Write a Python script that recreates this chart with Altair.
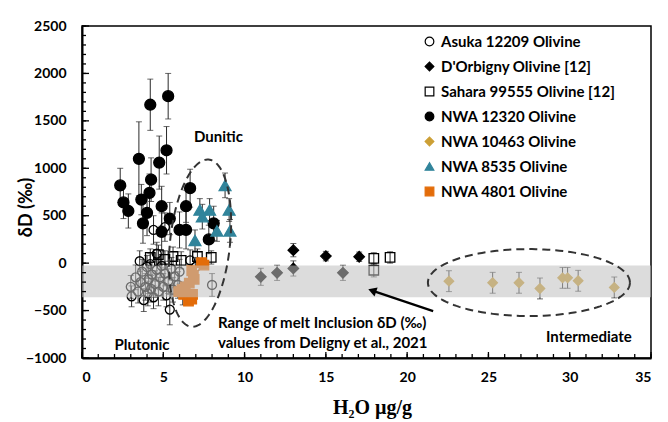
import altair as alt
import pandas as pd
import numpy as np

# ---------------- data ----------------
SERIES = ["Asuka 12209 Olivine", "D'Orbigny Olivine [12]", "Sahara 99555 Olivine [12]",
          "NWA 12320 Olivine", "NWA 10463 Olivine", "NWA 8535 Olivine", "NWA 4801 Olivine"]
SHAPES = ["circle", "diamond", "square", "circle", "diamond", "triangle-up", "square"]
FILLS = ["transparent", "#000000", "transparent", "#000000", "#CC9F35", "#31849B", "#E36C09"]
STROKES = ["#000000", "#000000", "#000000", "#000000", "#CC9F35", "#31849B", "#E36C09"]
SIZES = [80, 110, 90, 120, 90, 140, 90]

asuka_x = [3.0, 3.05, 3.3, 3.45, 3.6, 3.7, 3.8, 3.9, 4.0, 4.05, 4.1, 4.2, 4.25, 4.3, 4.4, 4.4, 4.5,
           4.6, 4.7, 4.8, 4.9, 5.0, 5.1, 5.1, 5.2, 5.3, 5.4, 5.5, 5.6, 5.7, 5.9, 6.0, 6.65, 7.0,
           8.0, 6.2, 4.6, 3.55]
asuka_y = [-250, -350, -150, -300, -200, -90, -390, -250, -40, -320, -170, -10, -270, -120, -360,
           350, -220, -70, -300, -150, -30, -250, 380, -110, -340, -190, -490, -60, -280, -140,
           -230, -90, 30, -40, -230, -320, 100, 20]
asuka_e = [120, 110, 130, 120, 140, 130, 120, 140, 120, 130, 150, 110, 140, 130, 120, 150, 140,
           120, 150, 130, 120, 140, 150, 130, 120, 130, 160, 120, 130, 120, 140, 130, 110, 100,
           120, 120, 120, 110]

dorb_x = [13.0, 15.0, 17.05, 11.0, 12.0, 13.0, 16.05]
dorb_y = [137, 74, 67, -144, -102, -56, -102]
dorb_e = [70, 50, 50, 90, 80, 80, 80]

sahara_x = [4.2, 4.7, 5.1, 5.6, 6.1, 7.1, 7.95, 17.95, 18.95, 17.95]
sahara_y = [60, 90, 40, 70, 30, 70, 60, 50, 60, -75]
sahara_e = [90, 100, 90, 100, 90, 80, 70, 60, 60, 70]

nwa12320_x = [2.35, 2.55, 2.85, 3.5, 3.65, 3.75, 4.0, 4.15, 4.2, 4.25, 4.75, 4.9, 5.2, 5.3,
              4.9, 5.4, 6.0, 6.4, 6.4, 6.65, 7.8, 8.1]
nwa12320_y = [820, 640, 550, 1100, 670, 420, 530, 740, 1670, 880, 1060, 600, 1190, 1760,
              330, 470, 350, 350, 600, 790, 250, 420]
nwa12320_e = [180, 170, 180, 390, 160, 210, 240, 200, 270, 230, 280, 210, 250, 240,
              200, 170, 190, 200, 170, 200, 150, 180]

nwa10463_x = [22.57, 25.26, 26.88, 28.17, 29.56, 29.87, 30.52, 32.74]
nwa10463_y = [-190, -207, -207, -267, -155, -155, -186, -256]
nwa10463_e = [110, 110, 110, 110, 110, 110, 110, 110]

nwa8535_x = [8.8, 7.25, 7.85, 7.4, 9.05, 8.3, 9.1, 6.95]
nwa8535_y = [820, 560, 560, 490, 560, 340, 340, 240]
nwa8535_e = [130, 120, 120, 130, 120, 110, 120, 110]

nwa4801_x = [7.35, 7.5, 6.75, 6.85, 6.9, 6.6, 6.35, 6.15, 5.95, 6.25, 6.8, 6.55, 6.75]
nwa4801_y = [5, -20, -80, -130, -170, -210, -250, -280, -300, -330, -330, -400, -380]
nwa4801_e = [30] * 13

band_lo, band_hi = -360, -25

annot_text = ["Dunitic", "Plutonic", "Range of melt Inclusion δD (‰)",
              "values from Deligny et al., 2021", "Intermediate"]
annot_x = [8.39, 3.69, 8.36, 8.36, 31.18]
annot_y = [1328, -864, -632, -843, -780]
annot_align = ["center", "center", "left", "left", "center"]

arrow_x = [21.6, 17.85]
arrow_y = [-506, -290]

ell_dunitic = dict(cx=7.26, cy=211, major=84, minor=30, tilt=6, vertical=True)
ell_inter = dict(cx=27.49, cy=-205, major=101, minor=33.5, tilt=0, vertical=False)

# ---------------- build tables ----------------
W, H = 569, 332
XPX = W / 35.0
YPX = H / 3500.0

parts = [
    (asuka_x, asuka_y, asuka_e), (dorb_x, dorb_y, dorb_e), (sahara_x, sahara_y, sahara_e),
    (nwa12320_x, nwa12320_y, nwa12320_e), (nwa10463_x, nwa10463_y, nwa10463_e),
    (nwa8535_x, nwa8535_y, nwa8535_e), (nwa4801_x, nwa4801_y, nwa4801_e),
]
rows = []
for s, sz, (xs, ys, es) in zip(SERIES, SIZES, parts):
    for x, y, e in zip(xs, ys, es):
        rows.append({"series": s, "x": x, "y": y, "lo": y - e, "hi": y + e, "sz": sz})
df = pd.DataFrame(rows)
caps = pd.concat([df[["series", "x"]].assign(c=df["lo"]), df[["series", "x"]].assign(c=df["hi"])])


def ellipse(p, n=160):
    t = np.linspace(0, 2 * np.pi, n)
    th = np.radians(p["tilt"])
    a, b = p["major"], p["minor"]
    if p["vertical"]:
        dx = b * np.cos(t) * np.cos(th) + a * np.sin(t) * np.sin(th)
        dy = -b * np.cos(t) * np.sin(th) + a * np.sin(t) * np.cos(th)
    else:
        dx = a * np.cos(t)
        dy = b * np.sin(t)
    return pd.DataFrame({"x": p["cx"] + dx / XPX, "y": p["cy"] + dy / YPX, "o": np.arange(n)})


ells = pd.concat([ellipse(ell_dunitic).assign(g="d"), ellipse(ell_inter).assign(g="i")])

annot = pd.DataFrame({"t": annot_text, "x": annot_x, "y": annot_y, "al": annot_align})
arrow = pd.DataFrame({"x": arrow_x, "y": arrow_y, "o": [0, 1]})
band = pd.DataFrame({"x": [0], "x2": [35], "y": [band_lo], "y2": [band_hi]})
yminor = pd.DataFrame({"v": list(range(-1000, 2501, 100))})
ymajor = pd.DataFrame({"v": list(range(-1000, 2501, 500))})
xminor = pd.DataFrame({"v": list(range(0, 36, 1))})
xmajor = pd.DataFrame({"v": list(range(0, 36, 5))})

XS = alt.Scale(domain=[0, 35], nice=False, zero=False)
YS = alt.Scale(domain=[-1000, 2500], nice=False, zero=False)
FONT = "Lato"

xaxis = alt.Axis(values=list(range(0, 36, 5)), format="d", ticks=False, grid=False, domain=True,
                 domainColor="black", domainWidth=2, labelFont=FONT, labelFontWeight="bold",
                 labelFontSize=14, labelColor="black", labelPadding=12,
                 title="H₂O µg/g", titleFont="Liberation Serif", titleFontSize=20,
                 titleFontWeight="bold", titleColor="black", titleX=290, titleY=49,
                 titleBaseline="middle", titleAlign="center")
yaxis = alt.Axis(values=list(range(-1000, 2501, 500)), format="d", ticks=False, grid=False,
                 domain=True, domainColor="black", domainWidth=2, labelFont=FONT,
                 labelFontWeight="bold", labelFontSize=14, labelColor="black", labelPadding=16,
                 title="δD (‰)", titleFont=FONT, titleFontSize=18, titleFontWeight="bold",
                 titleColor="black", titleX=-56, titleY=181, titleAngle=270,
                 titleBaseline="middle", titleAlign="center")


def X(f):
    return alt.X(f, type="quantitative", scale=XS, axis=xaxis)


def Y(f):
    return alt.Y(f, type="quantitative", scale=YS, axis=yaxis)


leg = alt.Legend(title=None)
points = alt.Chart(df).mark_point(opacity=1, strokeWidth=1.3).encode(
    x=X("x"), y=Y("y"),
    shape=alt.Shape("series:N", scale=alt.Scale(domain=SERIES, range=SHAPES), legend=leg),
    fill=alt.Fill("series:N", scale=alt.Scale(domain=SERIES, range=FILLS), legend=leg),
    stroke=alt.Stroke("series:N", scale=alt.Scale(domain=SERIES, range=STROKES), legend=leg),
    size=alt.Size("sz:Q", scale=None),
)

errbars = alt.Chart(df).mark_rule(color="#2a2a2a", strokeWidth=1).encode(
    x=X("x"), y=Y("lo"), y2="hi")
capm = alt.Chart(caps).mark_tick(orient="horizontal", size=6, thickness=1, color="#2a2a2a").encode(
    x=X("x"), y=Y("c"))

bandm = alt.Chart(band).mark_rect(color="#C0C0C0", opacity=0.56).encode(
    x=X("x"), x2="x2", y=Y("y"), y2="y2")

ellm = alt.Chart(ells).mark_line(color="#333333", strokeWidth=2, strokeDash=[8, 5]).encode(
    x=X("x"), y=Y("y"), detail="g:N", order="o:Q")

arrowline = alt.Chart(arrow).mark_line(color="black", strokeWidth=2.2).encode(
    x=X("x"), y=Y("y"), order="o:Q")
arrowhead = alt.Chart(arrow.iloc[[1]]).mark_point(shape="triangle-up", angle=289, size=90,
                                                  filled=True, color="black", opacity=1).encode(
    x=X("x"), y=Y("y"))

texts = []
for al in ["left", "center"]:
    texts.append(alt.Chart(annot[annot["al"] == al]).mark_text(
        align=al, baseline="middle", font=FONT, fontSize=15, fontWeight="bold", color="black"
    ).encode(x=X("x"), y=Y("y"), text="t:N"))

ytm = alt.Chart(yminor).mark_rule(color="black", strokeWidth=1.3).encode(
    y=Y("v"), x=alt.value(0), x2=alt.value(4))
ytM = alt.Chart(ymajor).mark_rule(color="black", strokeWidth=1.3).encode(
    y=Y("v"), x=alt.value(0), x2=alt.value(7))
xtm = alt.Chart(xminor).mark_rule(color="black", strokeWidth=1.3).encode(
    x=X("v"), y=alt.value(H), y2=alt.value(H - 4))
xtM = alt.Chart(xmajor).mark_rule(color="black", strokeWidth=1.3).encode(
    x=X("v"), y=alt.value(H), y2=alt.value(H - 6))

chart = alt.layer(
    errbars, capm, points, bandm, ellm, arrowline, arrowhead, *texts, ytm, ytM, xtm, xtM
).properties(
    width=W, height=H, autosize=alt.AutoSizeParams(type="none"),
    padding={"left": 74, "top": 18, "right": 9, "bottom": 62},
).configure_view(
    stroke="black", strokeWidth=1.5
).configure_legend(
    orient="none", legendX=340, legendY=8, labelFont=FONT, labelFontSize=15,
    labelFontWeight="bold", labelColor="black", symbolStrokeWidth=1.2, symbolSize=75,
    rowPadding=9, labelOffset=4, padding=0, labelLimit=400
)

chart.save("out.html", embed_options={"renderer": "svg", "actions": False})
